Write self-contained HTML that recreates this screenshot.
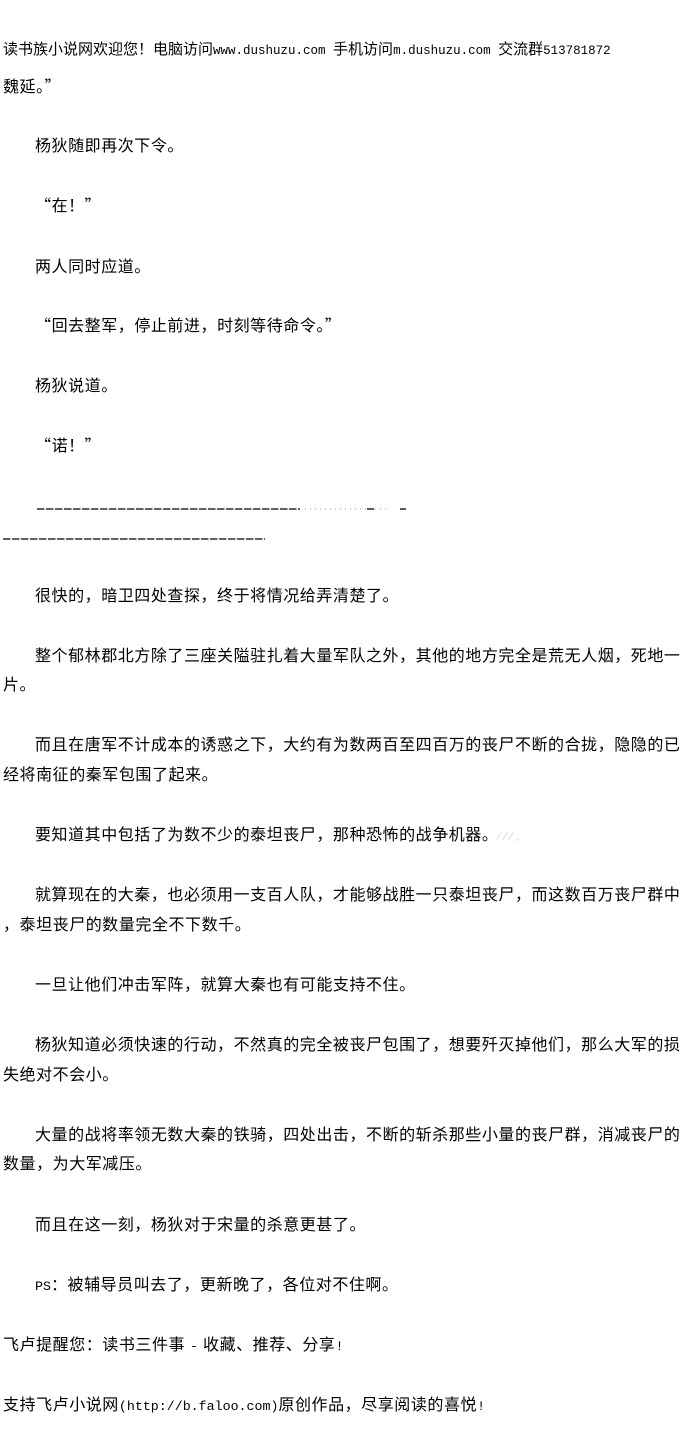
<!DOCTYPE html>
<html><head><meta charset="utf-8"><style>
body{margin:0;width:700px;height:1450px;background:#fff;position:relative;overflow:hidden;color:#000;font-family:"Liberation Sans","Noto Sans CJK SC",sans-serif;}
.p{position:absolute;left:0;white-space:nowrap;font-size:16px;line-height:30px;letter-spacing:0.55px;}
.i{padding-left:35px;}
.l{padding-left:3px;}
.m{font-family:"Liberation Mono","Noto Sans CJK SC",monospace;font-size:13.3px;letter-spacing:0;}
.h{font-size:15px;letter-spacing:0;}
.h .m{font-size:12.5px;}
.q{font-family:"Noto Sans CJK SC",sans-serif;}
</style></head><body>
<div class="p l h" style="top:35px">读书族小说网欢迎您！电脑访问<span class="m">www.dushuzu.com </span>手机访问<span class="m">m.dushuzu.com </span>交流群<span class="m">513781872</span></div>
<div class="p l" style="top:70px">魏延。<span class="q">”</span></div>
<div class="p i" style="top:132px">杨狄随即再次下令。</div>
<div class="p i" style="top:189px"><span class="q">“</span>在！<span class="q">”</span></div>
<div class="p i" style="top:253px">两人同时应道。</div>
<div class="p i" style="top:309px"><span class="q">“</span>回去整军，停止前进，时刻等待命令。<span class="q">”</span></div>
<div class="p i" style="top:372px">杨狄说道。</div>
<div class="p i" style="top:429px"><span class="q">“</span>诺！<span class="q">”</span></div>
<svg style="position:absolute;left:0;top:500px" width="700" height="45">
<line x1="37" y1="9" x2="300" y2="9" stroke="#000" stroke-width="1.3" stroke-dasharray="7.5,1.5"/>
<line x1="305" y1="9" x2="390" y2="9" stroke="#999" stroke-width="1" stroke-dasharray="1,4"/>
<line x1="367" y1="9" x2="374" y2="9" stroke="#000" stroke-width="1.3"/>
<line x1="400" y1="9" x2="406" y2="9" stroke="#000" stroke-width="1.3"/>
<line x1="3" y1="39" x2="265" y2="39" stroke="#000" stroke-width="1.3" stroke-dasharray="7.5,1.5"/>
</svg>
<div class="p i" style="top:582px">很快的，暗卫四处查探，终于将情况给弄清楚了。</div>
<div class="p i" style="top:642px">整个郁林郡北方除了三座关隘驻扎着大量军队之外，其他的地方完全是荒无人烟，死地一</div>
<div class="p l" style="top:671px">片。</div>
<div class="p i" style="top:731px">而且在唐军不计成本的诱惑之下，大约有为数两百至四百万的丧尸不断的合拢，隐隐的已</div>
<div class="p l" style="top:761px">经将南征的秦军包围了起来。</div>
<div class="p i" style="top:821px">要知道其中包括了为数不少的泰坦丧尸，那种恐怖的战争机器。<span style="color:#ccc;font-size:11px">⁄ ⁄ ⁄ ,</span></div>
<div class="p i" style="top:881px">就算现在的大秦，也必须用一支百人队，才能够战胜一只泰坦丧尸，而这数百万丧尸群中</div>
<div class="p l" style="top:911px">，泰坦丧尸的数量完全不下数千。</div>
<div class="p i" style="top:971px">一旦让他们冲击军阵，就算大秦也有可能支持不住。</div>
<div class="p i" style="top:1031px">杨狄知道必须快速的行动，不然真的完全被丧尸包围了，想要歼灭掉他们，那么大军的损</div>
<div class="p l" style="top:1061px">失绝对不会小。</div>
<div class="p i" style="top:1121px">大量的战将率领无数大秦的铁骑，四处出击，不断的斩杀那些小量的丧尸群，消减丧尸的</div>
<div class="p l" style="top:1150px">数量，为大军减压。</div>
<div class="p i" style="top:1211px">而且在这一刻，杨狄对于宋量的杀意更甚了。</div>
<div class="p i" style="top:1271px"><span class="m">PS</span>：被辅导员叫去了，更新晚了，各位对不住啊。</div>
<div class="p l" style="top:1331px">飞卢提醒您：读书三件事 <span class="m">-</span> 收藏、推荐、分享<span class="m">!</span></div>
<div class="p l" style="top:1391px">支持飞卢小说网<span class="m">(http://b.faloo.com)</span>原创作品，尽享阅读的喜悦<span class="m">!</span></div>
</body></html>
